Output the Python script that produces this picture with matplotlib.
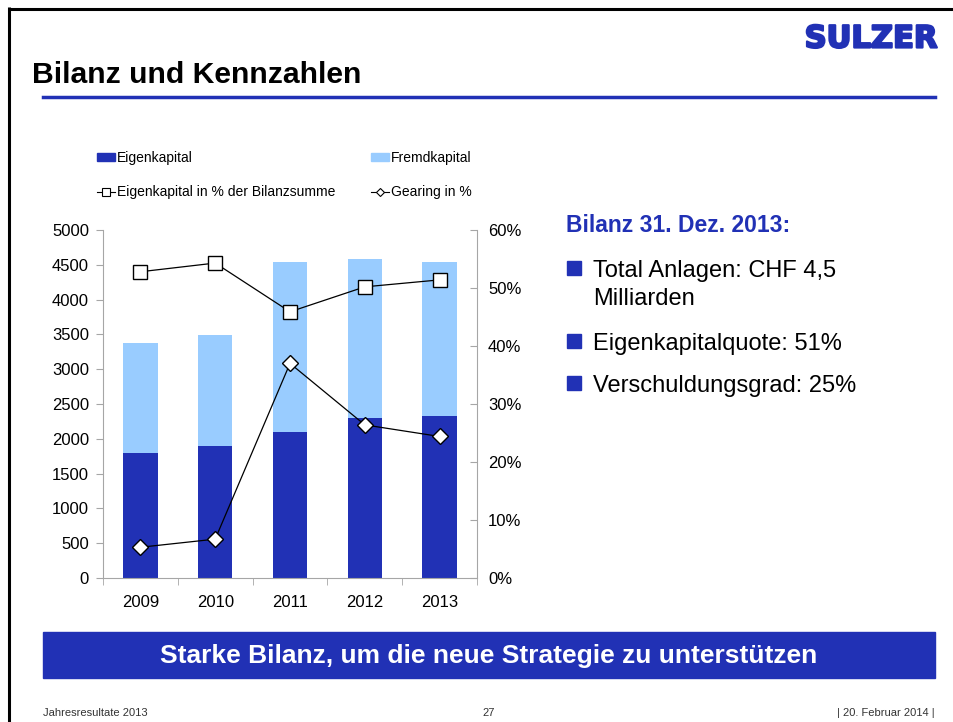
import matplotlib
matplotlib.use("Agg")
import matplotlib.pyplot as plt
from matplotlib.patches import Rectangle, Patch
from matplotlib.lines import Line2D
import matplotlib.patheffects as pe
import numpy as np

plt.rcParams['font.family'] = ['Liberation Sans', 'DejaVu Sans']

years = ['2009', '2010', '2011', '2012', '2013']
eigenkapital = [1790, 1900, 2100, 2300, 2330]
fremdkapital = [1590, 1590, 2440, 2290, 2210]
ek_quote = [52.8, 54.3, 45.9, 50.2, 51.4]
gearing = [5.3, 6.7, 37.0, 26.4, 24.4]
left_ticks = [0, 500, 1000, 1500, 2000, 2500, 3000, 3500, 4000, 4500, 5000]
right_ticks = [0, 10, 20, 30, 40, 50, 60]

DARK = '#2131B5'
LIGHT = '#99CCFF'
GREY = '#A6A6A6'

W, H = 954, 722
fig = plt.figure(figsize=(W / 100, H / 100), dpi=100)

def fx(px):
    return px / W

def fy(py):
    return 1 - py / H

# Slide frame
fig.add_artist(Line2D([fx(8), fx(954)], [fy(8.5), fy(8.5)], color='black', lw=2.2,
                      solid_capstyle='butt', transform=fig.transFigure))
fig.add_artist(Line2D([fx(9.5), fx(9.5)], [fy(7), fy(722)], color='black', lw=2.2,
                      solid_capstyle='butt', transform=fig.transFigure))

# Logo
fig.text(fx(937), fy(39), 'SULZER', color=DARK, fontsize=22, fontweight='heavy',
         family='DejaVu Sans', ha='right', va='center',
         path_effects=[pe.withStroke(linewidth=1.6, foreground=DARK)])

# Title
fig.text(fx(32), fy(75), 'Bilanz und Kennzahlen', fontsize=21.7, fontweight='bold',
         ha='left', va='center', color='black')
fig.add_artist(Line2D([fx(43), fx(935)], [fy(97), fy(97)], color=DARK, lw=2.5, transform=fig.transFigure))

# Chart
ax = fig.add_axes([fx(103), fy(578), fx(477) - fx(103), fy(230) - fy(578)])
x = np.arange(len(years))
bw = 0.46
ax.bar(x, eigenkapital, bw, color=DARK, zorder=2)
ax.bar(x, fremdkapital, bw, bottom=eigenkapital, color=LIGHT, zorder=2)
ax.set_xlim(-0.5, len(years) - 0.5)
ax.set_ylim(0, 5000)
ax.set_yticks(left_ticks)
ax.set_yticklabels([str(v) for v in left_ticks], fontsize=12)
ax.set_xticks(x)
ax.set_xticklabels(years, fontsize=12)
ax.set_xticks(np.arange(-0.5, len(years)), minor=True)
ax.tick_params(axis='x', which='major', length=0, pad=12)
ax.tick_params(axis='x', which='minor', length=5, color=GREY, direction='out')
ax.tick_params(axis='y', length=5, color=GREY, direction='out', pad=5)
for s in ['top', 'right']:
    ax.spines[s].set_visible(False)
for s in ['left', 'bottom']:
    ax.spines[s].set_color(GREY)

ax2 = ax.twinx()
ax2.set_ylim(0, 60)
ax2.set_yticks(right_ticks)
ax2.set_yticklabels([f'{v}%' for v in right_ticks], fontsize=12)
ax2.tick_params(axis='y', length=5, color=GREY, direction='in', pad=8)
for s in ['top', 'left', 'bottom']:
    ax2.spines[s].set_visible(False)
ax2.spines['right'].set_color(GREY)
ax2.plot(x, ek_quote, color='black', lw=0.9, marker='s', markersize=10,
         markerfacecolor='white', markeredgecolor='black', markeredgewidth=1.0, zorder=3)
ax2.plot(x, gearing, color='black', lw=0.9, marker='D', markersize=8,
         markerfacecolor='white', markeredgecolor='black', markeredgewidth=1.0, zorder=3)

# Legend
handles = [
    Patch(color=DARK, label='Eigenkapital'),
    Line2D([], [], color='black', lw=0.8, marker='s', markersize=6, markerfacecolor='white',
           markeredgewidth=0.8, label='Eigenkapital in % der Bilanzsumme'),
    Patch(color=LIGHT, label='Fremdkapital'),
    Line2D([], [], color='black', lw=0.8, marker='D', markersize=4.5, markerfacecolor='white',
           markeredgewidth=0.8, label='Gearing in %'),
]
fig.legend(handles=handles, ncol=2, loc='upper left', bbox_to_anchor=(fx(97), fy(151)),
           frameon=False, fontsize=10, handlelength=1.3, handleheight=0.5, handletextpad=0.15,
           columnspacing=2.55, labelspacing=1.45, borderaxespad=0, borderpad=0)

# Right text
fig.text(fx(566), fy(226), 'Bilanz 31. Dez. 2013:', color=DARK, fontsize=16.5,
         fontweight='bold', ha='left', va='center')
bullets = [(268, ['Total Anlagen: CHF 4,5', 'Milliarden']),
           (341, ['Eigenkapitalquote: 51%']),
           (383, ['Verschuldungsgrad: 25%'])]
for yy, lines in bullets:
    fig.add_artist(Rectangle((fx(567), fy(yy + 7)), fx(14), fy(0) - fy(14), color=DARK,
                             transform=fig.transFigure))
    for i, txt in enumerate(lines):
        fig.text(fx(593), fy(yy + 29 * i), txt, fontsize=17, ha='left', va='center_baseline',
                 color='black')

# Banner
fig.add_artist(Rectangle((fx(43), fy(678)), fx(935) - fx(43), fy(632) - fy(678), color=DARK,
                         transform=fig.transFigure))
fig.text(fx(489), fy(656), 'Starke Bilanz, um die neue Strategie zu unterstützen', color='white',
         fontsize=19, fontweight='bold', ha='center', va='center')

# Footer
fig.text(fx(43), fy(713), 'Jahresresultate 2013', fontsize=8, ha='left', va='center', color='#333333')
fig.text(fx(489), fy(713), '27', fontsize=8, ha='center', va='center', color='#333333')
fig.text(fx(935), fy(713), '| 20. Februar 2014 |', fontsize=8, ha='right', va='center', color='#333333')

fig.savefig('out.png', dpi=100)
